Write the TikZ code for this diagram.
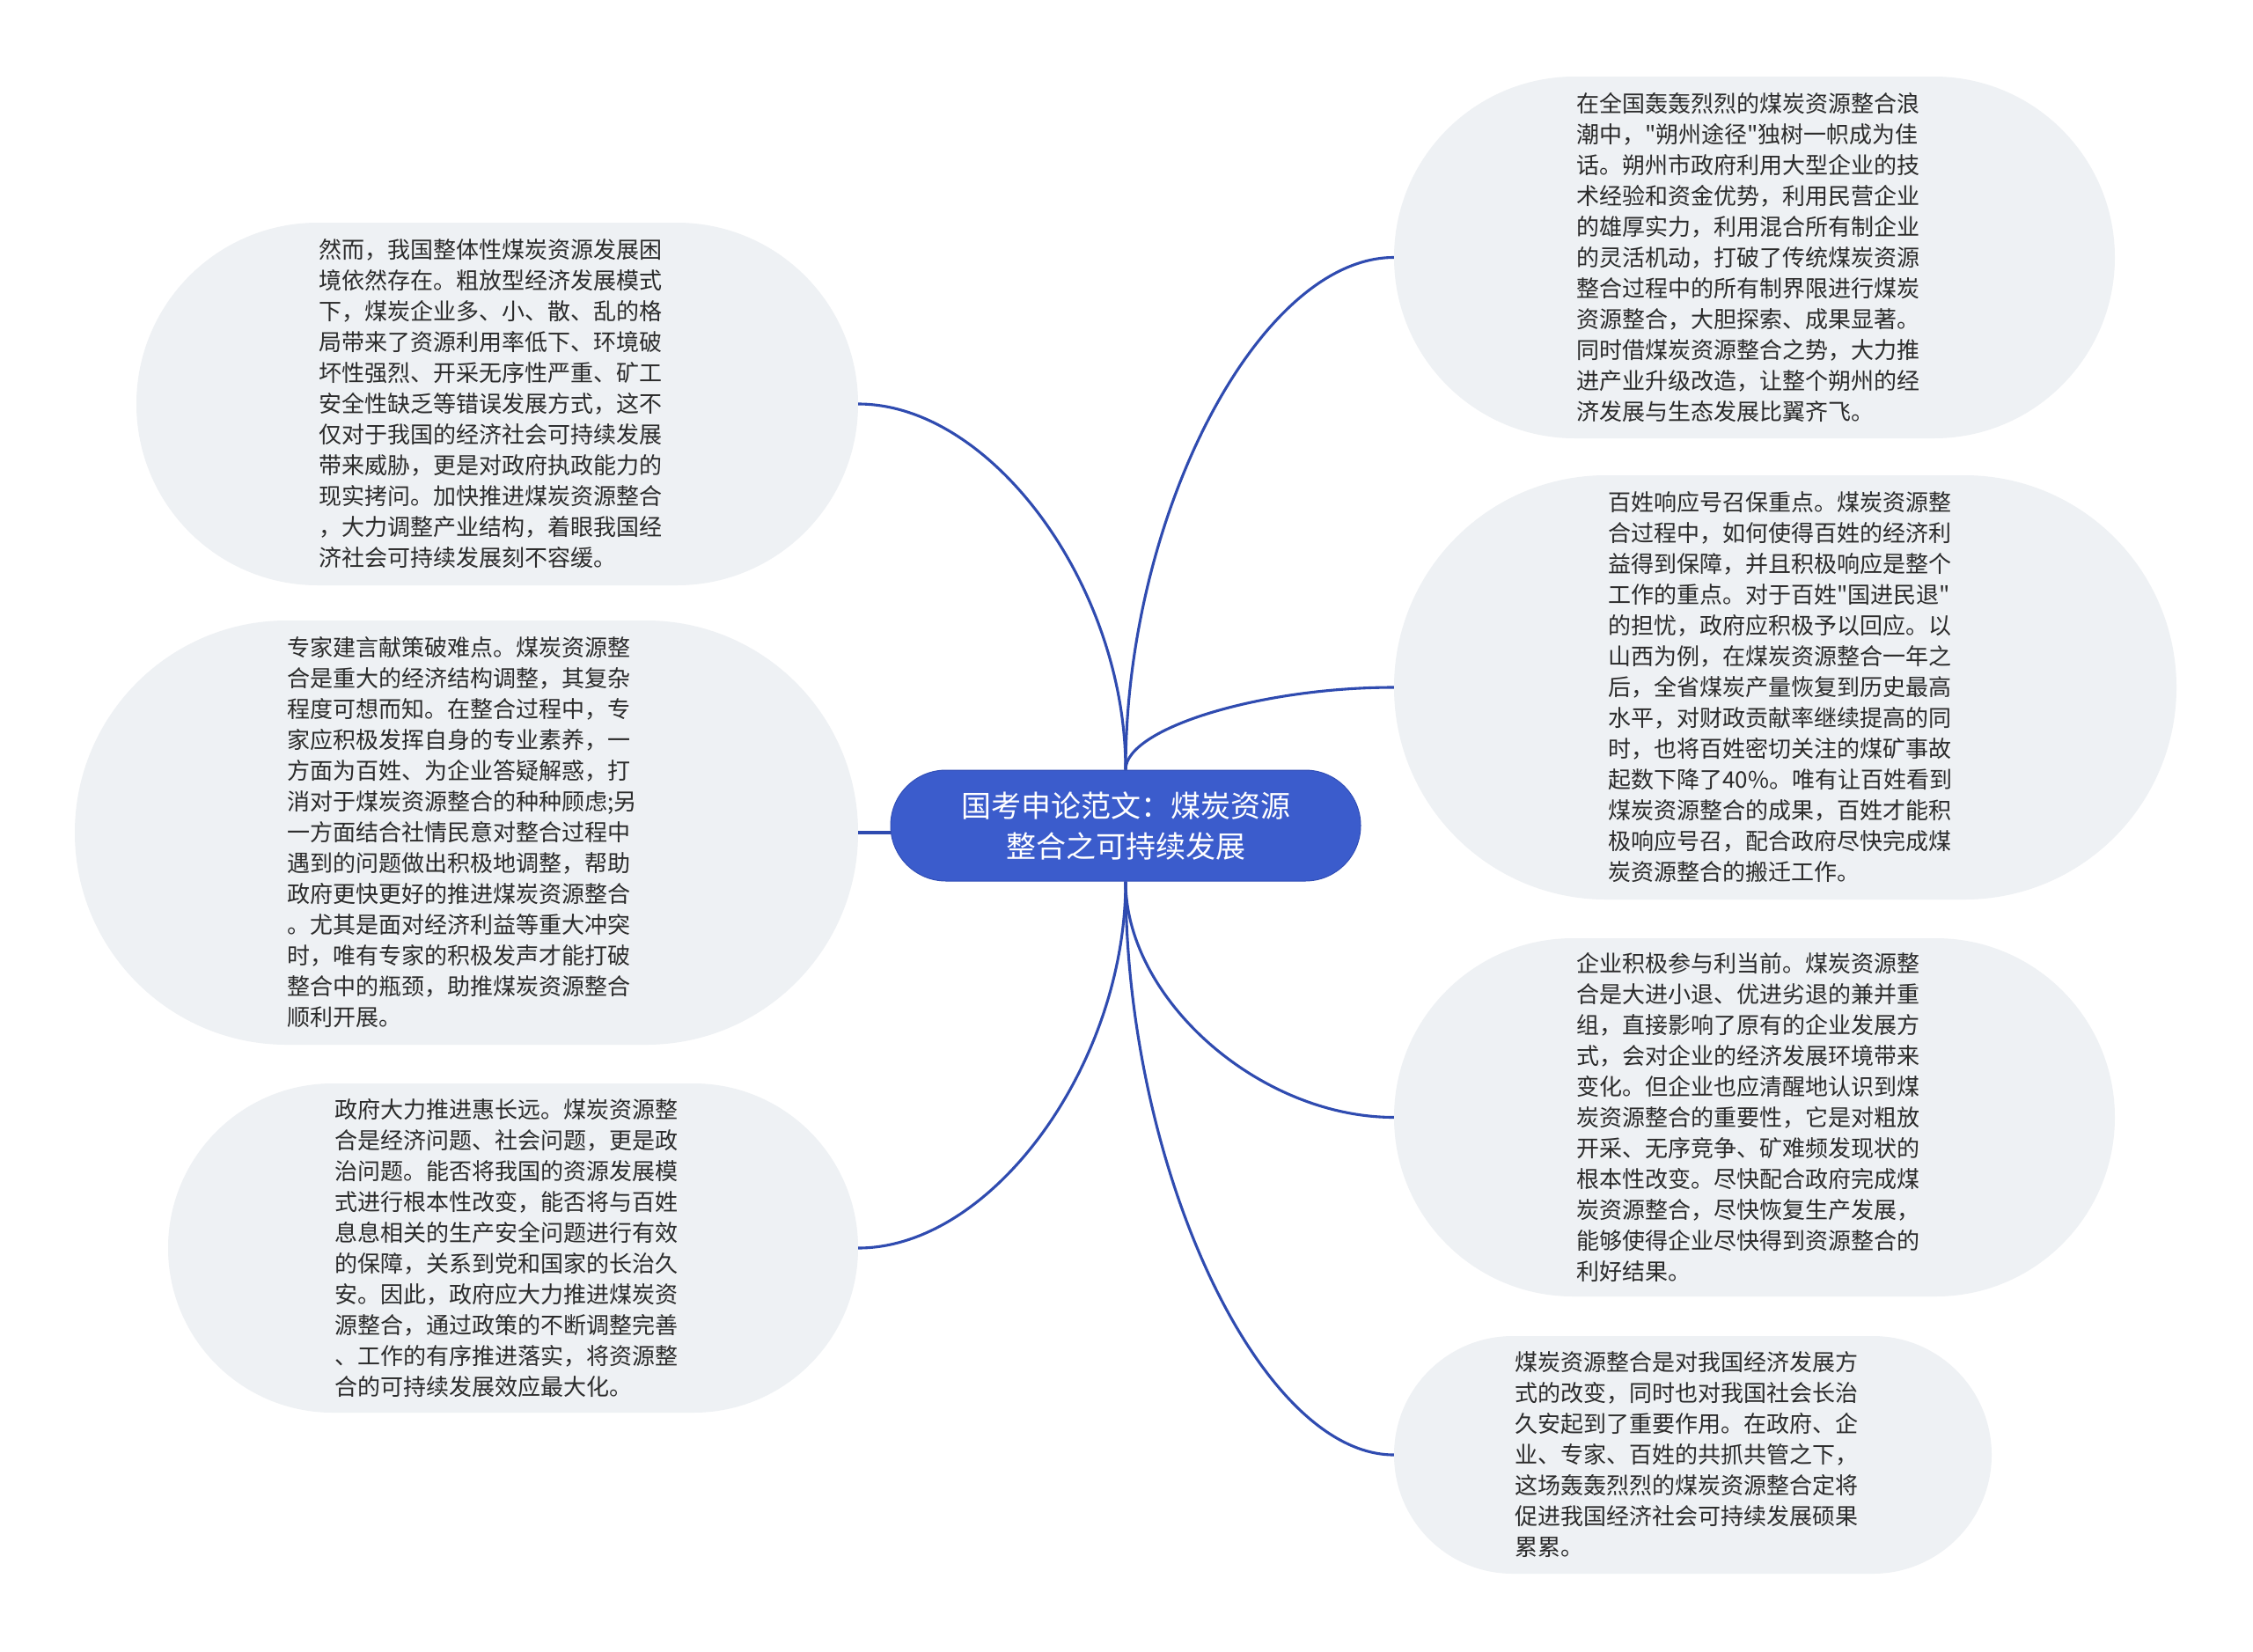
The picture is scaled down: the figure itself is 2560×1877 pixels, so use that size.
\documentclass[tikz,border=0pt]{standalone}
\usepackage{fontspec}
\setmainfont{Noto Sans CJK SC}[Ligatures=TeXOff]
\usetikzlibrary{shapes.misc,calc}
\definecolor{bubblefill}{HTML}{EEF1F4}
\definecolor{mainblue}{HTML}{3B5CCC}
\definecolor{linkblue}{HTML}{2F4BB0}
\definecolor{txtcol}{HTML}{2B2B2B}
\tikzset{
  bubble/.style={rounded rectangle, fill=bubblefill, draw=none, inner sep=0pt},
  bodytext/.style={anchor=west, inner sep=0pt, text width=400pt, align=left, text=txtcol,
    font=\fontsize{26pt}{35pt}\selectfont},
  conn/.style={draw=linkblue, line width=3.1pt},
  root/.style={rounded rectangle, fill=mainblue, draw=linkblue!80!mainblue, line width=1pt,
    minimum width=534pt, minimum height=126pt, inner sep=0pt, text=white, align=center,
    font=\fontsize{34pt}{46pt}\selectfont}
}
\begin{document}
\begin{tikzpicture}[x=1pt,y=-1pt]
\useasboundingbox (0,0) rectangle (2560,1877);
\fill[white] (0,0) rectangle (2560,1877);

% bubbles
\node[bubble, minimum width=820pt, minimum height=412pt] (L1) at (565,459) {};
\node[bubble, minimum width=890pt, minimum height=482pt] (L2) at (530,946) {};
\node[bubble, minimum width=784pt, minimum height=374pt] (L3) at (583,1418) {};
\node[bubble, minimum width=819pt, minimum height=411pt] (R1) at (1993.5,292.5) {};
\node[bubble, minimum width=889pt, minimum height=482pt] (R2) at (2028.5,781) {};
\node[bubble, minimum width=819pt, minimum height=407pt] (R3) at (1993.5,1269.5) {};
\node[bubble, minimum width=679pt, minimum height=270pt] (R4) at (1923.5,1653) {};

% root
\node[root] (C) at (1279,938) {国考申论范文：煤炭资源\\整合之可持续发展};

% connectors
\draw[conn] (C.north) .. controls ($(C.north)!0.5!(C.north |- L1.east)$) and ($(C.north |- L1.east)!0.5!(L1.east)$) .. (L1.east);
\draw[conn] (C.north) .. controls ($(C.north)!0.5!(C.north |- R1.west)$) and ($(C.north |- R1.west)!0.5!(R1.west)$) .. (R1.west);
\draw[conn] (C.north) .. controls ($(C.north)!0.5!(C.north |- R2.west)$) and ($(C.north |- R2.west)!0.5!(R2.west)$) .. (R2.west);
\draw[conn] (L2.east) -- (L2.east -| C.west);
\draw[conn] (C.south) .. controls ($(C.south)!0.5!(C.south |- L3.east)$) and ($(C.south |- L3.east)!0.5!(L3.east)$) .. (L3.east);
\draw[conn] (C.south) .. controls ($(C.south)!0.5!(C.south |- R3.west)$) and ($(C.south |- R3.west)!0.5!(R3.west)$) .. (R3.west);
\draw[conn] (C.south) .. controls ($(C.south)!0.5!(C.south |- R4.west)$) and ($(C.south |- R4.west)!0.5!(R4.west)$) .. (R4.west);

% texts
\node[bodytext] (L1t) at (362.5,459) {然而，我国整体性煤炭资源发展困\\
境依然存在。粗放型经济发展模式\\
下，煤炭企业多、小、散、乱的格\\
局带来了资源利用率低下、环境破\\
坏性强烈、开采无序性严重、矿工\\
安全性缺乏等错误发展方式，这不\\
仅对于我国的经济社会可持续发展\\
带来威胁，更是对政府执政能力的\\
现实拷问。加快推进煤炭资源整合\\
，大力调整产业结构，着眼我国经\\
济社会可持续发展刻不容缓。};

\node[bodytext] (L2t) at (326.5,946) {专家建言献策破难点。煤炭资源整\\
合是重大的经济结构调整，其复杂\\
程度可想而知。在整合过程中，专\\
家应积极发挥自身的专业素养，一\\
方面为百姓、为企业答疑解惑，打\\
消对于煤炭资源整合的种种顾虑;另\\
一方面结合社情民意对整合过程中\\
遇到的问题做出积极地调整，帮助\\
政府更快更好的推进煤炭资源整合\\
。尤其是面对经济利益等重大冲突\\
时，唯有专家的积极发声才能打破\\
整合中的瓶颈，助推煤炭资源整合\\
顺利开展。};

\node[bodytext] (L3t) at (380,1418) {政府大力推进惠长远。煤炭资源整\\
合是经济问题、社会问题，更是政\\
治问题。能否将我国的资源发展模\\
式进行根本性改变，能否将与百姓\\
息息相关的生产安全问题进行有效\\
的保障，关系到党和国家的长治久\\
安。因此，政府应大力推进煤炭资\\
源整合，通过政策的不断调整完善\\
、工作的有序推进落实，将资源整\\
合的可持续发展效应最大化。};

\node[bodytext] (R1t) at (1791,292.5) {在全国轰轰烈烈的煤炭资源整合浪\\
潮中，"朔州途径"独树一帜成为佳\\
话。朔州市政府利用大型企业的技\\
术经验和资金优势，利用民营企业\\
的雄厚实力，利用混合所有制企业\\
的灵活机动，打破了传统煤炭资源\\
整合过程中的所有制界限进行煤炭\\
资源整合，大胆探索、成果显著。\\
同时借煤炭资源整合之势，大力推\\
进产业升级改造，让整个朔州的经\\
济发展与生态发展比翼齐飞。};

\node[bodytext] (R2t) at (1827,781) {百姓响应号召保重点。煤炭资源整\\
合过程中，如何使得百姓的经济利\\
益得到保障，并且积极响应是整个\\
工作的重点。对于百姓"国进民退"\\
的担忧，政府应积极予以回应。以\\
山西为例，在煤炭资源整合一年之\\
后，全省煤炭产量恢复到历史最高\\
水平，对财政贡献率继续提高的同\\
时，也将百姓密切关注的煤矿事故\\
起数下降了40\%。唯有让百姓看到\\
煤炭资源整合的成果，百姓才能积\\
极响应号召，配合政府尽快完成煤\\
炭资源整合的搬迁工作。};

\node[bodytext] (R3t) at (1791,1269.5) {企业积极参与利当前。煤炭资源整\\
合是大进小退、优进劣退的兼并重\\
组，直接影响了原有的企业发展方\\
式，会对企业的经济发展环境带来\\
变化。但企业也应清醒地认识到煤\\
炭资源整合的重要性，它是对粗放\\
开采、无序竞争、矿难频发现状的\\
根本性改变。尽快配合政府完成煤\\
炭资源整合，尽快恢复生产发展，\\
能够使得企业尽快得到资源整合的\\
利好结果。};

\node[bodytext] (R4t) at (1721,1653) {煤炭资源整合是对我国经济发展方\\
式的改变，同时也对我国社会长治\\
久安起到了重要作用。在政府、企\\
业、专家、百姓的共抓共管之下，\\
这场轰轰烈烈的煤炭资源整合定将\\
促进我国经济社会可持续发展硕果\\
累累。};
\end{tikzpicture}
\end{document}
